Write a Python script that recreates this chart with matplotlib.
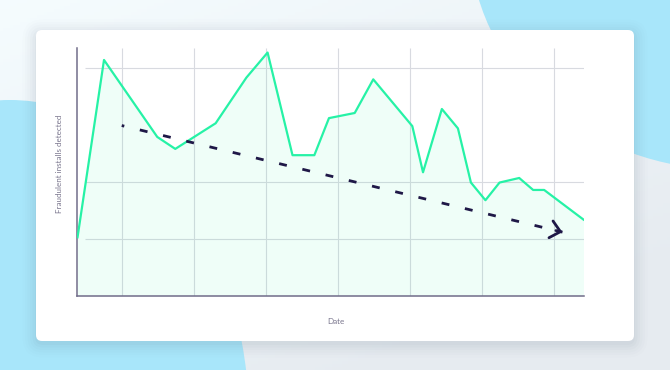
import matplotlib
matplotlib.use('Agg')
import matplotlib.pyplot as plt
import numpy as np
from matplotlib.patches import FancyBboxPatch, Ellipse

plt.rcParams['lines.scale_dashes'] = False

# ---- data ----
day = [0.1, 2.67, 7.84, 9.59, 13.51, 16.49, 18.55, 20.97, 23.09, 24.51, 27.01,
       28.81, 32.60, 33.64, 35.47, 37.03, 38.29, 39.70, 41.07, 42.98, 44.33,
       45.40, 49.22]
installs = [103, 414, 279, 258, 303, 383, 427, 247, 247, 312, 321, 380, 298,
            217, 328, 294, 199, 168, 199, 207, 186, 186, 134]
trend_day = [4.39, 47.18]
trend_installs = [299, 112]
x_grid = [4.39 + 7 * k for k in range(7)]
y_grid = [100, 200, 400]
x_label = "Date"
y_label = "Fraudulent installs detected"

W, H = 670, 370
GREEN = '#26f2a6'
NAVY = '#1f1847'
GRID = '#d8dae0'
SPINE = '#716d8a'
TEXT = '#77738b'

fig = plt.figure(figsize=(W / 100, H / 100), dpi=100)

# ---- background ----
bg = fig.add_axes([0, 0, 1, 1])
bg.set_xlim(0, W)
bg.set_ylim(H, 0)
bg.axis('off')
xx, yy = np.meshgrid(np.linspace(0, 1, 200), np.linspace(0, 1, 120))
t = np.clip((xx * 0.6 + yy * 0.9) / 1.2, 0, 1)[..., None]
c1 = np.array([0.96, 0.988, 0.997])
c2 = np.array([0.905, 0.925, 0.945])
img = c1 * (1 - t) + c2 * t
bg.imshow(img, extent=[0, W, H, 0], aspect='auto', zorder=0)
blob = '#a8e6fa'
bg.add_patch(Ellipse((730, -60), 520, 460, color=blob, lw=0, zorder=1))
bg.add_patch(Ellipse((10, 420), 478, 640, color=blob, lw=0, zorder=1))
# card shadow
for i, a in enumerate([0.035, 0.03, 0.025, 0.02, 0.015, 0.01]):
    p = 2 + i * 2.5
    bg.add_patch(FancyBboxPatch((36 - p + 1, 30 - p + 4), 598 + 2 * p - 2, 311 + 2 * p - 2,
                                boxstyle='round,pad=0,rounding_size=%f' % (6 + p),
                                fc='#5a6a80', ec='none', alpha=a, zorder=2))
bg.add_patch(FancyBboxPatch((36, 30), 598, 311,
                            boxstyle='round,pad=0,rounding_size=6',
                            fc='white', ec='none', zorder=3))

# ---- chart ----
ax = fig.add_axes([76.5 / W, (H - 296) / H, 507 / W, 248 / H])
ax.set_facecolor('none')
ax.set_xlim(0, 49.22)
ax.set_ylim(0, 435)

ax.vlines(x_grid, 0, 435, color=GRID, lw=0.8, zorder=1)
ax.hlines(y_grid, 0.83, 49.22, color=GRID, lw=0.8, zorder=1)

ax.fill_between(day, installs, 0, color=GREEN, alpha=0.07, lw=0, zorder=2)
ax.plot(day, installs, color=GREEN, lw=1.6, zorder=3)

ax.plot(trend_day, trend_installs, color=NAVY, lw=2.0,
        linestyle=(3.8, (5.7, 11.5)), dash_capstyle='butt', zorder=4)
fx = 0.985
ax.annotate('', xy=(trend_day[1], trend_installs[1]),
            xytext=(trend_day[0] + fx * (trend_day[1] - trend_day[0]),
                    trend_installs[0] + fx * (trend_installs[1] - trend_installs[0])),
            arrowprops=dict(arrowstyle='->,head_length=0.7,head_width=0.62',
                            color=NAVY, lw=2.0, shrinkA=0, shrinkB=0),
            zorder=5)

for s in ['top', 'right']:
    ax.spines[s].set_visible(False)
for s in ['left', 'bottom']:
    ax.spines[s].set_color(SPINE)
    ax.spines[s].set_linewidth(1.1)
ax.set_xticks([])
ax.set_yticks([])

fig.text(335.5 / W, 1 - 321.5 / H, x_label, ha='center', va='center',
         fontsize=5.8, color=TEXT, family=['Lato', 'DejaVu Sans'])
fig.text(60 / W, 1 - 164 / H, y_label, ha='center', va='center', rotation=90,
         fontsize=5.8, color=TEXT, family=['Lato', 'DejaVu Sans'])

fig.savefig('out.png', dpi=100)
